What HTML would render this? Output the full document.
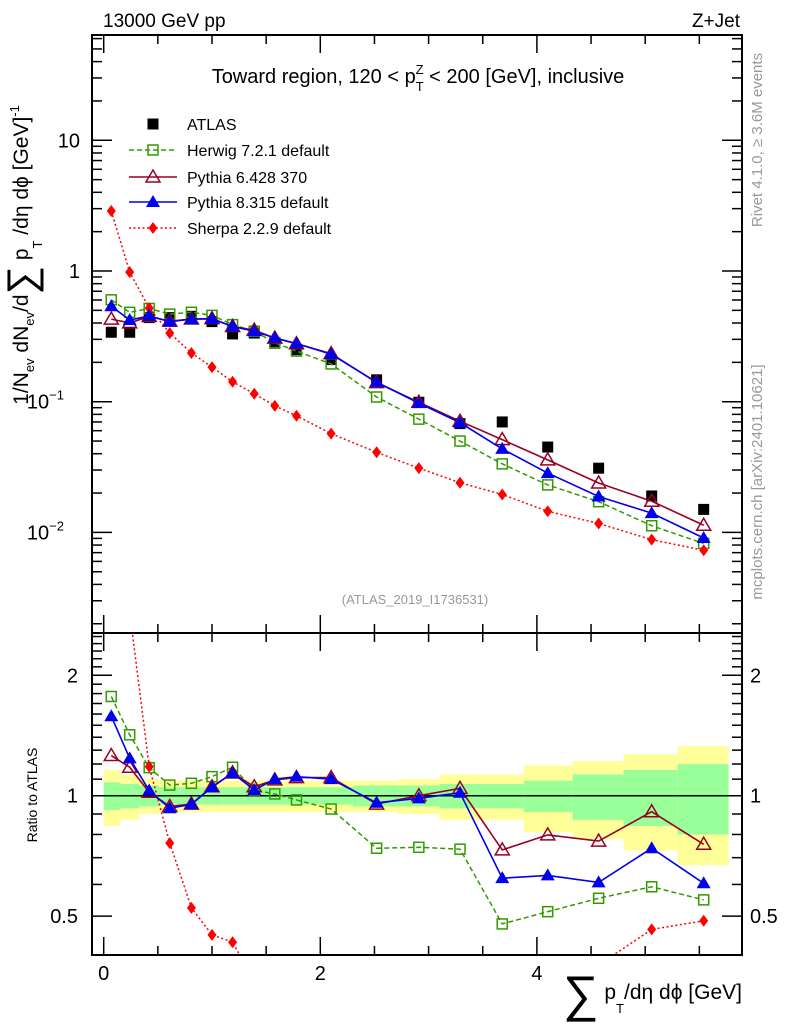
<!DOCTYPE html>
<html><head><meta charset="utf-8"><style>
html,body{margin:0;padding:0;background:#fff;}
svg{display:block;font-family:"Liberation Sans",sans-serif;}
</style></head><body>
<svg id="c" width="786" height="1024" viewBox="0 0 786 1024" xmlns="http://www.w3.org/2000/svg">
<defs>
<clipPath id="mainClip"><rect x="92" y="35" width="650" height="598"/></clipPath>
<clipPath id="ratioClip"><rect x="92" y="633" width="650" height="322"/></clipPath>
</defs>
<g id="bands" clip-path="url(#ratioClip)"></g>
<g id="axes"></g>
<g id="series"></g>
<rect x="92" y="35" width="650" height="598" fill="none" stroke="#000" stroke-width="2"/>
<rect x="92" y="633" width="650" height="322" fill="none" stroke="#000" stroke-width="2"/>
<text x="103" y="27" font-size="19">13000 GeV pp</text>
<text x="740" y="27" font-size="19" text-anchor="end">Z+Jet</text>
<text x="418" y="83" font-size="20" text-anchor="middle">Toward region, 120 &lt; p<tspan font-size="13" dy="8">T</tspan><tspan font-size="13" dx="-8" dy="-17">Z</tspan><tspan dy="9"> &lt; 200 [GeV], inclusive</tspan></text>
<text x="415" y="604" font-size="13" fill="#999" text-anchor="middle">(ATLAS_2019_I1736531)</text>
<text transform="translate(762,140) rotate(-90)" font-size="15" fill="#999" text-anchor="middle">Rivet 4.1.0, ≥ 3.6M events</text>
<text transform="translate(762,482) rotate(-90)" font-size="15" fill="#999" text-anchor="middle">mcplots.cern.ch [arXiv:2401.10621]</text>
<g transform="translate(28,255) rotate(-90)">
<text x="0" y="0" font-size="21" text-anchor="middle">1/N<tspan font-size="13" dy="6">ev</tspan><tspan dy="-6"> dN</tspan><tspan font-size="13" dy="6">ev</tspan><tspan dy="-6">/d</tspan><tspan font-size="40" dy="7">∑</tspan><tspan dy="-7"> p</tspan><tspan font-size="13" dy="14">T</tspan><tspan dy="-14"> /dη dϕ  [GeV]</tspan><tspan font-size="13" dy="-9">-1</tspan></text>
</g>
<text transform="translate(37,795) rotate(-90)" font-size="14" text-anchor="middle">Ratio to ATLAS</text>
<text x="742" y="999" font-size="21" text-anchor="end"><tspan font-size="50" dy="12">∑</tspan><tspan dy="-12"> p</tspan><tspan font-size="13" dy="14">T</tspan><tspan dy="-14">/dη dϕ [GeV]</tspan></text>
<g id="legend"></g>
</svg>
<script>
const xCenters=[0.07,0.24,0.42,0.61,0.81,1.0,1.19,1.39,1.58,1.78,2.1,2.52,2.91,3.29,3.68,4.1,4.57,5.06,5.54];
const binEdges=[0,0.15,0.33,0.51,0.71,0.9,1.1,1.29,1.48,1.68,1.9,2.3,2.72,3.1,3.48,3.88,4.33,4.8,5.3,5.77];
const atlas=[0.34,0.34,0.44,0.44,0.45,0.41,0.33,0.335,0.28,0.25,0.21,0.147,0.099,0.068,0.070,0.045,0.031,0.019,0.015];
const herwigRatio=[1.77,1.42,1.175,1.063,1.074,1.116,1.178,1.033,1.01,0.976,0.926,0.739,0.743,0.735,0.478,0.513,0.554,0.592,0.549];
const py6Ratio=[1.26,1.178,1.02,0.94,0.953,1.053,1.14,1.053,1.095,1.11,1.11,0.953,1.0,1.043,0.732,0.798,0.77,0.912,0.756];
const py8Ratio=[1.58,1.24,1.03,0.93,0.952,1.05,1.14,1.033,1.1,1.116,1.1,0.96,0.985,1.017,0.622,0.632,0.607,0.739,0.604];
const sherpa=[2.88,0.98,0.52,0.335,0.236,0.184,0.142,0.115,0.093,0.078,0.057,0.041,0.031,0.024,0.0195,0.0145,0.0117,0.0088,0.0073];
const totErr=[0.16,0.13,0.10,0.09,0.09,0.09,0.09,0.09,0.09,0.09,0.09,0.09,0.10,0.13,0.13,0.19,0.22,0.27,0.33];
const statErr=[0.08,0.07,0.06,0.05,0.05,0.05,0.05,0.05,0.05,0.05,0.05,0.06,0.06,0.07,0.07,0.09,0.13,0.16,0.20];
const xTickLabels=["0","2","4"];

const NS="http://www.w3.org/2000/svg";
const X=v=>103.7+v*108.3;
const Y=v=>271-Math.log10(v)*130.7;
const R=v=>795.7-Math.log10(v)*400;
function el(tag,attrs,parent){const e=document.createElementNS(NS,tag);for(const k in attrs)e.setAttribute(k,attrs[k]);parent.appendChild(e);return e;}
const axes=document.getElementById('axes');
const bands=document.getElementById('bands');
const series=document.getElementById('series');
const legend=document.getElementById('legend');

for(let i=0;i<xCenters.length;i++){
  const x0=X(binEdges[i]),x1=X(binEdges[i+1]);
  const y=el('rect',{x:x0,y:R(1+totErr[i]),width:x1-x0,height:R(1-totErr[i])-R(1+totErr[i]),fill:'#ffff99'},bands);
  
  
  const g=el('rect',{x:x0,y:R(1+statErr[i]),width:x1-x0,height:R(1-statErr[i])-R(1+statErr[i]),fill:'#99ff99'},bands);
  
  
}
const one=el('line',{x1:92,x2:742,y1:R(1),y2:R(1),stroke:'#000','stroke-width':1.5},axes);



for(let v=0;v<=5.75;v+=0.5){
  const major=Math.abs(v%2)<1e-6;const L=major?18:9;const x=X(v);
  [[35,35+L],[633,633-L],[633,633+L],[955,955-L]].forEach(p=>{
    const t=el('line',{x1:x,x2:x,y1:p[0],y2:p[1],stroke:'#000','stroke-width':1.5},axes);
    
    
  });
}
xTickLabels.forEach(s=>{
  const t=el('text',{x:X(+s),y:980,'font-size':20,'text-anchor':'middle'},axes);t.textContent=s;
  
  
});
for(let d=-3;d<=1;d++){for(let m=1;m<=9;m++){
  const v=m*Math.pow(10,d);const y=Y(v);if(y<35||y>633)continue;
  const L=m===1?20:10;
  [[92,92+L],[742,742-L]].forEach(p=>{
    const t=el('line',{x1:p[0],x2:p[1],y1:y,y2:y,stroke:'#000','stroke-width':1.5},axes);
    
    
  });
}}
[[10,'10',null],[1,'1',null],[0.1,'10','−1'],[0.01,'10','−2']].forEach(a=>{
  const t=el('text',{x:a[2]?64:80,y:Y(a[0])+7,'font-size':20,'text-anchor':'end'},axes);t.textContent=a[1];
  if(a[2]){const s=el('tspan',{'font-size':13,dy:-9},t);s.textContent=a[2];}
  
  
});
[0.4,0.5,0.6,0.7,0.8,0.9,1,1.1,1.2,1.3,1.4,1.5,1.6,1.7,1.8,1.9,2,2.1,2.2,2.3,2.4,2.5].forEach(v=>{
  const y=R(v);if(y<634||y>954)return;
  const L=(v===0.5||v===1||v===2)?20:10;
  [[92,92+L],[742,742-L]].forEach(p=>{
    const t=el('line',{x1:p[0],x2:p[1],y1:y,y2:y,stroke:'#000','stroke-width':1.5},axes);
    
    
  });
});
[[2,'2'],[1,'1'],[0.5,'0.5']].forEach(a=>{
  [[78,'end'],[750,'start']].forEach(p=>{
    const t=el('text',{x:p[0],y:R(a[0])+7,'font-size':20,'text-anchor':p[1]},axes);t.textContent=a[1];
    
    
  });
});

function marker(kind,x,y,col,parent){
  if(kind==='sq') return el('rect',{x:x-5.5,y:y-5.5,width:11,height:11,fill:col},parent);
  if(kind==='osq') return el('rect',{x:x-5,y:y-5,width:10,height:10,fill:'none',stroke:col,'stroke-width':1.5},parent);
  if(kind==='otri') return el('polygon',{points:`${x},${y-7} ${x-7},${y+5} ${x+7},${y+5}`,fill:'none',stroke:col,'stroke-width':1.5},parent);
  if(kind==='tri') return el('polygon',{points:`${x},${y-7} ${x-7},${y+5} ${x+7},${y+5}`,fill:col},parent);
  if(kind==='dia') return el('polygon',{points:`${x},${y-6} ${x-4.5},${y} ${x},${y+6} ${x+4.5},${y}`,fill:col},parent);
}
function drawSeries(name,vals,ratios,col,dash,kind,width){
  const gm=el('g',{'clip-path':'url(#mainClip)'},series);
  
  
  const gr=el('g',{'clip-path':'url(#ratioClip)'},series);
  
  
  if(col){
    const pm=xCenters.map((x,i)=>X(x)+','+Y(vals[i])).join(' ');
    const l=el('polyline',{points:pm,fill:'none',stroke:col,'stroke-width':width,'stroke-dasharray':dash},gm);
    
    
    const pr=xCenters.map((x,i)=>X(x)+','+R(ratios[i])).join(' ');
    const l2=el('polyline',{points:pr,fill:'none',stroke:col,'stroke-width':width,'stroke-dasharray':dash},gr);
    
    
  }
  xCenters.forEach((x,i)=>{
    const m=marker(kind,X(x),Y(vals[i]),col||'#000',gm);
    
    
    if(col){
      const m2=marker(kind,X(x),R(ratios[i]),col,gr);
      
      
    }
  });
}
const herwig=atlas.map((a,i)=>a*herwigRatio[i]);
const py6=atlas.map((a,i)=>a*py6Ratio[i]);
const py8=atlas.map((a,i)=>a*py8Ratio[i]);
const sherpaRatio=sherpa.map((s,i)=>s/atlas[i]);
drawSeries('atlas',atlas,null,null,'','sq',0);
drawSeries('herwig',herwig,herwigRatio,'#339900','5,3','osq',1.5);
drawSeries('sherpa',sherpa,sherpaRatio,'#ff0000','2,2.5','dia',1.5);
drawSeries('pythia6',py6,py6Ratio,'#990022','','otri',1.6);
drawSeries('pythia8',py8,py8Ratio,'#0000ee','','tri',1.6);

const entries=[['ATLAS',null,'','sq'],['Herwig 7.2.1 default','#339900','5,3','osq'],['Pythia 6.428 370','#990022','','otri'],['Pythia 8.315 default','#0000ee','','tri'],['Sherpa 2.2.9 default','#ff0000','2,2.5','dia']];
const ly=[124,150,177,202,228];
entries.forEach((e,i)=>{
  const g=el('g',{},legend);
  
  
  if(e[1]){el('line',{x1:129,x2:177,y1:ly[i],y2:ly[i],stroke:e[1],'stroke-width':1.5,'stroke-dasharray':e[2]},g);}
  marker(e[3],153,ly[i],e[1]||'#000',g);
  const t=el('text',{x:187,y:ly[i]+6,'font-size':16},g);t.textContent=e[0];
});
</script>
</body></html>
